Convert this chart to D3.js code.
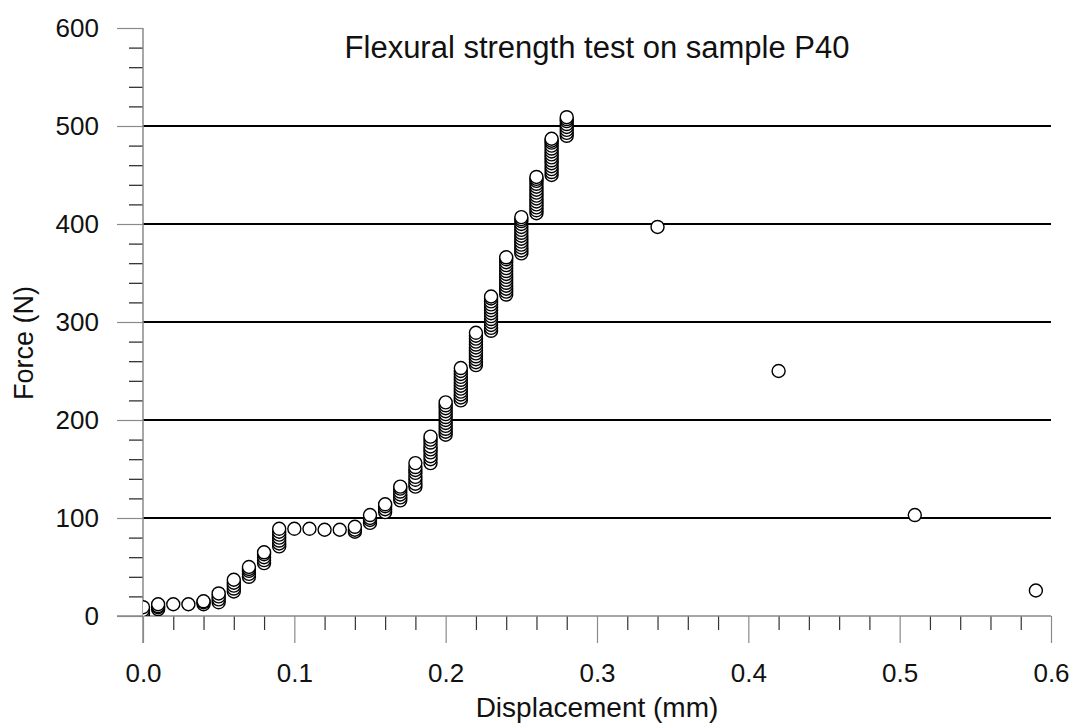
<!DOCTYPE html>
<html>
<head>
<meta charset="utf-8">
<script src="https://cdn.jsdelivr.net/npm/d3@7"></script>
<style>
  html, body { margin: 0; padding: 0; background: #fff; }
  svg { display: block; font-family: "Liberation Sans", Arial, sans-serif; }
</style>
</head>
<body>
<svg id="chart" width="1076" height="724"></svg>
<script>
// ---- data ----
const titleText = "Flexural strength test on sample P40";
const xLabel = "Displacement (mm)";
const yLabel = "Force (N)";
const xTicks = [0.0, 0.1, 0.2, 0.3, 0.4, 0.5, 0.6];
const yTicks = [0, 100, 200, 300, 400, 500, 600];
const gridValues = [100, 200, 300, 400, 500];
const displacement = [0.00, 0.01, 0.02, 0.03, 0.04, 0.05, 0.06, 0.07, 0.08, 0.09,
  0.10, 0.11, 0.12, 0.13, 0.14, 0.15, 0.16, 0.17, 0.18, 0.19,
  0.20, 0.21, 0.22, 0.23, 0.24, 0.25, 0.26, 0.27, 0.28, 0.34, 0.42, 0.51, 0.59];
const forceStacks = [
  [0, 3, 6, 9],
  [7, 9, 10, 12],
  [12],
  [12],
  [12, 14, 15],
  [14, 17, 20, 23],
  [25, 28, 31, 34, 37],
  [40, 43, 46, 48, 50],
  [54, 57, 60, 63, 65],
  [71, 74, 77, 80, 83, 86, 89],
  [89],
  [89],
  [88],
  [88],
  [86, 88, 91],
  [95, 98, 100, 103],
  [106, 109, 112, 114],
  [118, 121, 124, 127, 130, 132],
  [132, 135, 139, 142, 146, 149, 152, 156],
  [156, 160, 163, 167, 170, 173, 177, 180, 183],
  [185, 188, 191, 194, 197, 200, 203, 206, 209, 212, 215, 218],
  [220, 223, 226, 229, 232, 235, 238, 241, 244, 247, 250, 253],
  [256, 259, 262, 265, 268, 271, 274, 277, 280, 283, 286, 289],
  [291, 294, 297, 300, 303, 306, 309, 312, 315, 318, 321, 324, 326],
  [328, 331, 334, 337, 340, 343, 346, 349, 352, 355, 358, 361, 364, 366],
  [370, 373, 376, 379, 382, 385, 388, 391, 394, 397, 400, 403, 405, 407],
  [411, 414, 417, 420, 423, 426, 429, 432, 435, 438, 441, 444, 446, 448],
  [450, 453, 456, 459, 462, 465, 468, 471, 474, 477, 480, 483, 485, 487],
  [490, 493, 496, 499, 502, 505, 507, 509],
  [397],
  [250],
  [103],
  [26]
];

(function () {
// ---- layout ----
const svg = d3.select("#chart");
const pLeft = 143, pRight = 1051, pTop = 28, pBottom = 616;
const x = d3.scaleLinear().domain([0, 0.6]).range([pLeft, pRight]);
const y = d3.scaleLinear().domain([0, 600]).range([pBottom, pTop]);

const points = [];
displacement.forEach((d, i) => forceStacks[i].forEach(f => points.push({d, f})));
points.sort((a, b) => a.f - b.f);

const axisColor = "#8a8a8a";
const tickFont = 26;

// clip
svg.append("clipPath").attr("id", "plotclip")
  .append("rect").attr("x", pLeft).attr("y", pTop - 10).attr("width", pRight - pLeft + 10).attr("height", pBottom - pTop + 10);

// gridlines
svg.append("g").selectAll("line").data(gridValues).join("line")
  .attr("x1", pLeft).attr("x2", pRight)
  .attr("y1", d => y(d)).attr("y2", d => y(d))
  .attr("stroke", "#000").attr("stroke-width", 2);

// y axis major
const yAxis = d3.axisLeft(y).tickValues(yTicks).tickSize(26).tickPadding(18).tickFormat(d3.format("d"));
const gy = svg.append("g").attr("transform", `translate(${pLeft},0)`).call(yAxis);
gy.select(".domain").remove();
gy.selectAll(".tick line").attr("stroke", axisColor).attr("stroke-width", 1.2);
gy.selectAll(".tick text").attr("font-size", tickFont).attr("fill", "#111").attr("font-family", "Liberation Sans, Arial, sans-serif");
// y minor
const yMinor = d3.range(0, 601, 20).filter(v => v % 100 !== 0);
const yAxisMinor = d3.axisLeft(y).tickValues(yMinor).tickSize(14).tickFormat("");
const gym = svg.append("g").attr("transform", `translate(${pLeft},0)`).call(yAxisMinor);
gym.select(".domain").remove();
gym.selectAll(".tick line").attr("stroke", "#222").attr("stroke-width", 1.2);
svg.append("line").attr("x1", pLeft).attr("x2", pLeft).attr("y1", pTop).attr("y2", pBottom + 27)
  .attr("stroke", axisColor).attr("stroke-width", 1.5);

// x axis
const xAxis = d3.axisBottom(x).tickValues(xTicks).tickSize(27).tickPadding(21).tickFormat(d3.format(".1f"));
const gx = svg.append("g").attr("transform", `translate(0,${pBottom})`).call(xAxis);
gx.select(".domain").remove();
gx.selectAll(".tick line").attr("stroke", axisColor).attr("stroke-width", 1.2);
gx.selectAll(".tick text").attr("font-size", tickFont).attr("fill", "#111").attr("font-family", "Liberation Sans, Arial, sans-serif");
const xMinor = d3.range(1, 30).map(i => i * 0.02).filter((v, i) => (i + 1) % 5 !== 0);
const xAxisMinor = d3.axisBottom(x).tickValues(xMinor).tickSize(14).tickFormat("");
const gxm = svg.append("g").attr("transform", `translate(0,${pBottom})`).call(xAxisMinor);
gxm.select(".domain").remove();
gxm.selectAll(".tick line").attr("stroke", "#333").attr("stroke-width", 1.2);
svg.append("line").attr("x1", pLeft - 26).attr("x2", pRight).attr("y1", pBottom).attr("y2", pBottom)
  .attr("stroke", axisColor).attr("stroke-width", 1.5);

// points
svg.append("g").attr("clip-path", "url(#plotclip)")
  .selectAll("circle").data(points).join("circle")
  .attr("cx", p => x(p.d)).attr("cy", p => y(p.f)).attr("r", 6.5)
  .attr("fill", "#fff").attr("stroke", "#000").attr("stroke-width", 1.4);

// title and axis labels
svg.append("text").attr("x", 597).attr("y", 58).attr("text-anchor", "middle")
  .attr("font-size", 31).attr("fill", "#111").text(titleText);
svg.append("text").attr("x", 597).attr("y", 717).attr("text-anchor", "middle")
  .attr("font-size", 28).attr("fill", "#111").text(xLabel);
svg.append("text").attr("transform", "translate(33,343) rotate(-90)").attr("text-anchor", "middle")
  .attr("font-size", 27).attr("fill", "#111").text(yLabel);
})();
</script>
</body>
</html>
